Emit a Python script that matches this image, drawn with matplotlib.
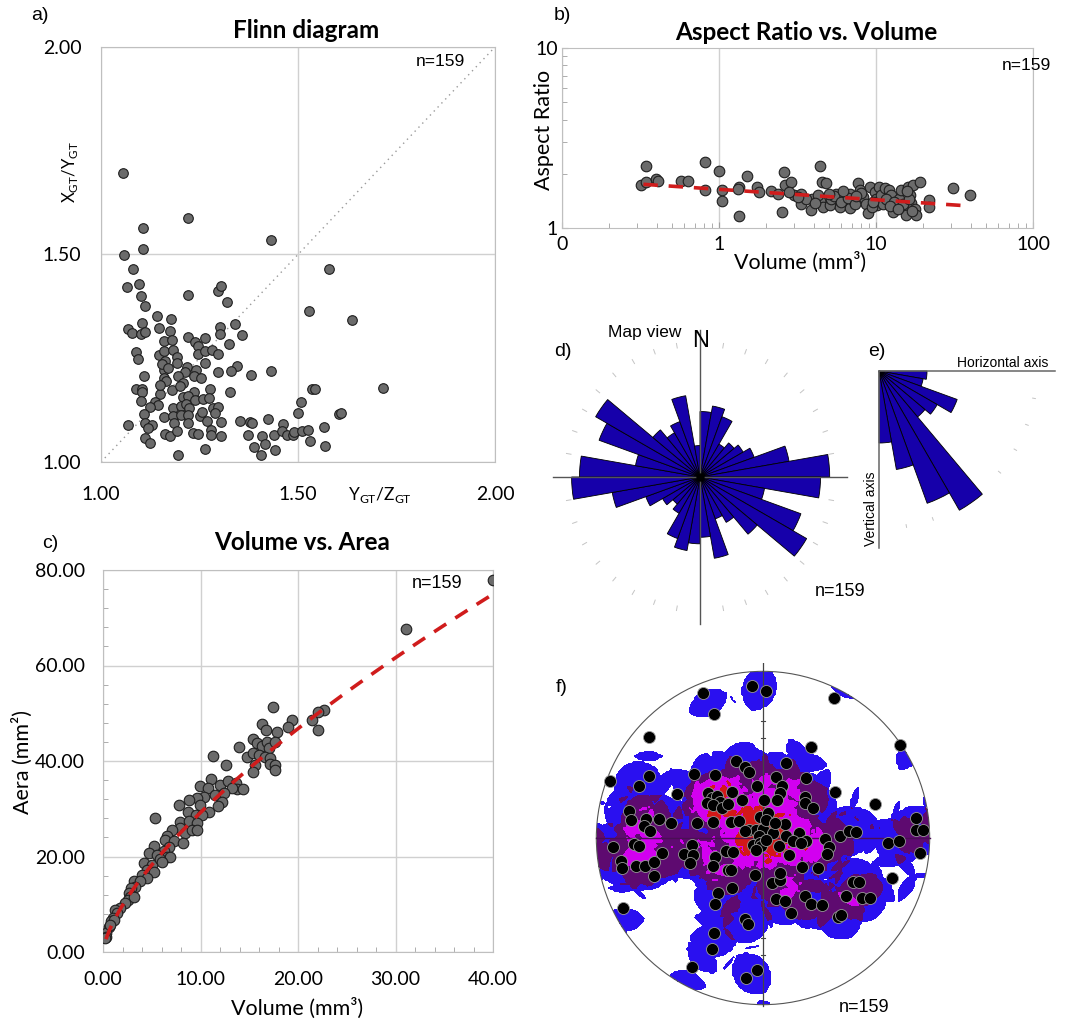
import numpy as np
import matplotlib
matplotlib.use("Agg")
import matplotlib.pyplot as plt
from matplotlib.patches import Circle
from matplotlib.ticker import FixedLocator, FixedFormatter, MultipleLocator, NullFormatter, LogLocator

# ---------------- DATA ----------------
# a) Flinn diagram
flinn_x = [1.057, 1.222, 1.106, 1.107, 1.432, 1.059, 1.080, 1.578, 1.067, 1.096, 1.102, 1.222, 1.296, 1.305,
           1.321, 1.112, 1.527, 1.637, 1.142, 1.177, 1.103, 1.339, 1.068, 1.078, 1.147, 1.176, 1.101, 1.111,
           1.301, 1.301, 1.359, 1.220, 1.264, 1.239, 1.160, 1.180, 1.245, 1.325, 1.088, 1.095, 1.147, 1.160,
           1.182, 1.246, 1.265, 1.282, 1.296, 1.193, 1.162, 1.192, 1.265, 1.159, 1.218, 1.212, 1.240, 1.344,
           1.331, 1.296, 1.431, 1.380, 1.110, 1.159, 1.196, 1.237, 1.254, 1.164, 1.209, 1.090, 1.103, 1.181,
           1.235, 1.277, 1.328, 1.536, 1.543, 1.717, 1.149, 1.103, 1.207, 1.220, 1.238, 1.259, 1.275, 1.101,
           1.137, 1.145, 1.125, 1.182, 1.203, 1.216, 1.224, 1.285, 1.298, 1.508, 1.109, 1.160, 1.183, 1.202,
           1.221, 1.251, 1.257, 1.290, 1.501, 1.605, 1.610, 1.069, 1.112, 1.129, 1.186, 1.220, 1.270, 1.305,
           1.353, 1.377, 1.382, 1.424, 1.119, 1.163, 1.176, 1.193, 1.233, 1.245, 1.279, 1.279, 1.304, 1.373,
           1.409, 1.439, 1.462, 1.460, 1.471, 1.487, 1.491, 1.511, 1.525, 1.566, 1.111, 1.124, 1.265, 1.389,
           1.416, 1.441, 1.530, 1.568, 1.196, 1.407, 1.155, 1.170, 1.150, 1.200]
flinn_y = [1.696, 1.589, 1.565, 1.514, 1.535, 1.498, 1.466, 1.465, 1.422, 1.429, 1.399, 1.403, 1.412, 1.423,
           1.386, 1.377, 1.363, 1.341, 1.353, 1.345, 1.335, 1.333, 1.320, 1.310, 1.322, 1.316, 1.309, 1.313,
           1.326, 1.309, 1.307, 1.301, 1.299, 1.288, 1.292, 1.293, 1.280, 1.284, 1.266, 1.248, 1.258, 1.267,
           1.271, 1.260, 1.267, 1.270, 1.261, 1.252, 1.244, 1.238, 1.238, 1.222, 1.228, 1.216, 1.222, 1.232,
           1.220, 1.216, 1.220, 1.209, 1.208, 1.202, 1.208, 1.208, 1.203, 1.194, 1.190, 1.177, 1.176, 1.174,
           1.169, 1.176, 1.168, 1.176, 1.177, 1.178, 1.164, 1.169, 1.157, 1.158, 1.150, 1.151, 1.155, 1.148,
           1.145, 1.137, 1.133, 1.130, 1.136, 1.140, 1.130, 1.130, 1.132, 1.145, 1.116, 1.109, 1.112, 1.114,
           1.113, 1.110, 1.120, 1.118, 1.118, 1.116, 1.118, 1.089, 1.093, 1.089, 1.094, 1.093, 1.098, 1.097,
           1.098, 1.096, 1.093, 1.104, 1.081, 1.068, 1.062, 1.075, 1.069, 1.068, 1.078, 1.064, 1.062, 1.066,
           1.062, 1.066, 1.092, 1.074, 1.066, 1.065, 1.073, 1.074, 1.077, 1.084, 1.059, 1.045, 1.032, 1.037,
           1.044, 1.030, 1.050, 1.038, 1.016, 1.017, 1.236, 1.226, 1.186, 1.182]

# b) Aspect ratio vs volume
vol_b = [0.32, 0.341, 0.344, 0.395, 0.409, 0.570, 0.637, 0.818, 0.81, 1.0, 1.05, 1.04, 1.335, 1.35, 1.32,
         1.506, 1.746, 1.81, 2.154, 2.376, 2.594, 2.62, 2.52, 2.86, 3.0, 3.345, 3.345, 3.87, 3.94, 4.42,
         4.55, 4.77, 4.4, 4.28, 4.59, 5.07, 5.2, 5.56, 5.86, 6.32, 6.8, 6.86, 7.1, 7.68, 7.87, 8.26, 8.67,
         8.9, 9.1, 9.8, 10.0, 10.2, 10.5, 10.8, 11.1, 11.4, 11.9, 12.1, 12.5, 12.8, 13.4, 14.1, 14.5, 15.2,
         15.6, 16.0, 16.4, 16.8, 17.2, 17.6, 18.0, 19.2, 21.9, 21.9, 30.9, 39.9, 3.6, 4.1, 5.4, 6.0, 6.6,
         7.3, 8.0, 9.4, 11.6, 13.0, 14.8, 16.2, 17.0, 12.3, 5.0, 6.2, 7.5, 3.2, 2.8, 9.6, 15.8, 13.8]
ar_b = [1.744, 2.208, 1.805, 1.868, 1.82, 1.836, 1.82, 2.314, 1.622, 2.079, 1.622, 1.408, 1.693, 1.162, 1.64,
        1.95, 1.693, 1.588, 1.607, 1.553, 2.035, 1.73, 1.223, 1.805, 1.52, 1.553, 1.355, 1.255, 1.457, 2.22,
        1.805, 1.78, 1.42, 1.52, 1.31, 1.34, 1.457, 1.553, 1.31, 1.438, 1.553, 1.298, 1.426, 1.78, 1.62,
        1.49, 1.366, 1.217, 1.693, 1.588, 1.457, 1.349, 1.693, 1.52, 1.366, 1.658, 1.426, 1.62, 1.53, 1.23,
        1.366, 1.457, 1.62, 1.31, 1.177, 1.693, 1.52, 1.378, 1.73, 1.28, 1.177, 1.79, 1.426, 1.31, 1.658,
        1.52, 1.45, 1.38, 1.50, 1.40, 1.47, 1.36, 1.56, 1.30, 1.45, 1.40, 1.36, 1.44, 1.25, 1.33, 1.55, 1.60,
        1.50, 1.48, 1.58, 1.40, 1.60, 1.28]
trend_b_x = [0.33, 35.0]
trend_b_a, trend_b_k = 1.64, -0.058

# c) Volume vs area
vol_c = [40.0, 31.06, 17.47, 22.66, 22.08, 21.4, 19.35, 19.0, 22.08, 16.35, 16.69, 17.88, 15.43, 15.84, 16.35,
         16.79, 17.06, 17.65, 13.9, 14.8, 15.43, 16.04, 16.62, 17.13, 15.63, 17.13, 17.65, 15.43, 17.6, 11.26,
         12.63, 11.06, 9.9, 10.82, 12.01, 12.8, 13.65, 13.79, 14.4, 13.28, 10.38, 11.5, 12.42, 12.18, 9.62,
         9.97, 8.87, 7.75, 10.92, 11.84, 8.7, 9.56, 10.14, 7.85, 8.87, 9.62, 5.36, 7.92, 8.43, 9.11, 9.62,
         7.06, 6.55, 6.38, 7.3, 8.19, 6.72, 6.21, 5.19, 4.68, 5.53, 6.55, 6.89, 4.16, 5.02, 5.8, 6.04, 4.5,
         5.19, 3.99, 4.5, 3.14, 3.82, 3.31, 2.87, 2.63, 2.8, 2.53, 3.14, 2.29, 1.77, 1.26, 1.43, 1.02, 0.85,
         0.58, 0.34, 0.34, 0.24, 1.09, 0.75]
area_c = [77.9, 67.6, 51.4, 50.7, 50.2, 48.6, 48.6, 47.2, 46.5, 47.7, 46.4, 46.0, 44.6, 43.7, 43.2, 43.9, 42.7,
          43.9, 43.0, 40.9, 41.6, 41.3, 40.9, 40.7, 39.1, 39.3, 39.2, 37.8, 38.1, 41.1, 39.2, 36.2, 34.7, 34.3,
          35.0, 35.9, 35.4, 34.1, 34.2, 34.3, 32.4, 32.9, 33.3, 31.5, 32.2, 30.8, 31.9, 30.8, 29.3, 30.5, 29.4,
          28.7, 28.7, 27.3, 27.5, 27.1, 28.0, 25.9, 24.9, 25.5, 25.6, 25.6, 24.2, 23.5, 23.2, 22.8, 21.9, 21.2,
          22.1, 20.7, 20.4, 19.9, 19.9, 18.6, 18.3, 19.5, 18.8, 17.2, 16.7, 16.2, 15.5, 14.8, 14.9, 13.7, 13.4,
          12.3, 11.5, 10.9, 11.5, 10.3, 9.2, 8.9, 8.2, 7.1, 6.4, 5.2, 4.0, 3.1, 2.9, 6.6, 5.7]
trend_c_x = [0.3, 40.0]
trend_c_a, trend_c_k = 6.1, 0.68

# d) Rose diagram, map view (10 degree bins from N, clockwise)
rose_d_bins = np.arange(0, 360, 10)
rose_d_vals = [5.0, 5.5, 4.9, 2.9, 3.4, 3.8, 4.4, 6.9, 9.9, 9.2, 5.0, 8.2, 9.4, 5.7, 4.0, 3.4, 6.3, 4.6,
               5.1, 5.7, 5.0, 3.2, 2.7, 3.3, 4.4, 6.8, 9.8, 9.2, 5.0, 8.2, 9.2, 4.7, 3.9, 4.5, 6.3, 2.4]

# e) Rose diagram, vertical section (10 degree bins from horizontal, downward)
rose_e_bins = np.arange(0, 90, 10)
rose_e_vals = [6.0, 5.6, 10.4, 8.4, 7.5, 20.1, 17.6, 12.5, 9.0]

# f) Stereonet, projected pole positions (unit circle)
pole_x = [-0.066, 0.020, -0.363, 0.428, -0.297, -0.687, 0.289, 0.821, -0.920, -0.687, -0.747, -0.414, -0.514,
          -0.165, -0.110, -0.084, -0.289, 0.139, 0.076, 0.259, 0.116, 0.100, 0.086, -0.034, -0.185, -0.124,
          -0.333, -0.309, -0.279, -0.259, -0.339, -0.299, -0.245, -0.209, 0.006, 0.249, 0.249, 0.299, 0.430,
          0.673, -0.803, -0.793, -0.703, -0.627, -0.552, -0.717, -0.677, -0.398, -0.299, -0.193, -0.145,
          -0.020, 0.030, 0.133, -0.084, -0.040, 0.000, 0.060, -0.026, -0.060, -0.020, -0.010, 0.020, 0.096,
          0.139, 0.213, 0.179, 0.259, 0.225, 0.369, 0.398, 0.384, 0.460, 0.518, 0.558, 0.920, 0.916, 0.960,
          0.747, 0.817, 0.942, -0.902, -0.777, -0.747, -0.851, -0.847, -0.761, -0.707, -0.657, -0.657, -0.608,
          -0.472, -0.428, -0.422, -0.438, -0.289, -0.299, -0.223, -0.183, -0.213, -0.195, -0.050, 0.056,
          0.100, 0.100, 0.155, 0.235, 0.329, -0.189, -0.269, -0.289, 0.080, 0.133, 0.249, 0.289, 0.353, 0.165,
          0.498, 0.538, 0.578, 0.594, 0.641, 0.771, 0.448, 0.468, -0.110, -0.090, -0.295, -0.309, -0.424,
          -0.100, -0.036, -0.841, -0.110, 0.020, 0.070, -0.040]
pole_y = [0.912, 0.880, 0.871, 0.841, 0.747, 0.608, 0.544, 0.558, 0.343, 0.373, 0.313, 0.384, 0.265, 0.462,
          0.428, 0.398, 0.378, 0.448, 0.369, 0.363, 0.315, 0.269, 0.229, 0.315, 0.275, 0.229, 0.269, 0.239,
          0.255, 0.219, 0.213, 0.199, 0.183, 0.203, 0.229, 0.249, 0.209, 0.179, 0.275, 0.203, 0.163, 0.106,
          0.116, 0.116, 0.090, 0.070, 0.040, 0.090, 0.094, 0.094, 0.100, 0.129, 0.153, 0.086, 0.046, 0.050,
          0.054, 0.030, 0.010, -0.040, -0.030, -0.050, -0.010, -0.050, 0.010, 0.030, -0.020, -0.020, -0.030,
          -0.006, -0.054, -0.096, 0.014, 0.044, 0.036, 0.120, 0.046, 0.046, -0.030, -0.016, -0.090, -0.056,
          -0.034, -0.050, -0.139, -0.179, -0.169, -0.169, -0.145, -0.229, -0.090, -0.094, -0.040, -0.102,
          -0.149, -0.114, -0.169, -0.080, -0.084, -0.193, -0.189, -0.223, -0.269, -0.249, -0.209, -0.100,
          -0.173, -0.179, -0.299, -0.329, -0.398, -0.363, -0.375, -0.345, -0.398, -0.404, -0.448, -0.345,
          -0.263, -0.263, -0.359, -0.359, -0.239, -0.474, -0.462, -0.484, -0.518, -0.568, -0.663, -0.771,
          -0.837, -0.791, -0.418, 0.040, 0.110, 0.090, -0.070]
n_label = "n=159"

# ---------------- FIGURE ----------------
W, H = 1076, 1031
fig = plt.figure(figsize=(W / 100, H / 100), dpi=100)
fig.patch.set_facecolor("white")

def box(x0, y0, x1, y1):
    return [x0 / W, 1 - y1 / H, (x1 - x0) / W, (y1 - y0) / H]

def ftext(x, y, s, **kw):
    return fig.text(x / W, 1 - y / H, s, **kw)

XL = ["Lato", "DejaVu Sans"]
AR = ["Liberation Sans", "DejaVu Sans"]
GRID = "#d0d0d0"
SPINE = "#bfbfbf"
MFC = "#6b6b6b"
MEC = "#1e1e1e"
RED = "#d01c1c"
TITLE_FS = 17.5
LABEL_FS = 15.5

# ---- a) Flinn diagram
ax = fig.add_axes(box(101, 47, 495, 462))
ax.set_xlim(1, 2)
ax.set_ylim(1, 2)
ax.plot([1, 2], [1, 2], ls=(0, (1, 3)), color="#9a9a9a", lw=1.0, zorder=1)
ax.scatter(flinn_x, flinn_y, s=48, c=MFC, edgecolors=MEC, linewidths=0.8, zorder=3)
ax.xaxis.set_major_locator(FixedLocator([1.0, 1.5, 2.0]))
ax.yaxis.set_major_locator(FixedLocator([1.0, 1.5, 2.0]))
ax.xaxis.set_major_formatter(FixedFormatter(["1.00", "1.50", "2.00"]))
ax.yaxis.set_major_formatter(FixedFormatter(["1.00", "1.50", "2.00"]))
ax.grid(True, color=GRID, lw=1.0, zorder=0)
ax.tick_params(length=0, labelsize=14, pad=14)
ax.tick_params(axis="x", pad=17)
for lab in ax.get_xticklabels() + ax.get_yticklabels():
    lab.set_family(XL)
for sp in ax.spines.values():
    sp.set_color(SPINE)
ax.set_axisbelow(True)
ftext(440, 62, n_label, family=AR, fontsize=12.5, ha="center", va="center")
ftext(306, 30, "Flinn diagram", family=XL, fontsize=TITLE_FS, fontweight="bold", ha="center", va="center")
ftext(40, 16, "a)", family=AR, fontsize=14, ha="center", va="center")
ftext(380, 495, r"Y$_{\mathregular{GT}}$/Z$_{\mathregular{GT}}$", family=XL, fontsize=12.5, ha="center", va="center")
ftext(70, 172, r"X$_{\mathregular{GT}}$/Y$_{\mathregular{GT}}$", family=XL, fontsize=12, ha="center",
      va="center", rotation=90)

# ---- b) Aspect ratio vs volume
ax = fig.add_axes(box(562, 48, 1033, 228))
ax.set_xscale("log")
ax.set_yscale("log")
ax.set_xlim(0.1, 100)
ax.set_ylim(1, 10)
ax.scatter(vol_b, ar_b, s=58, c=MFC, edgecolors=MEC, linewidths=0.8, zorder=3)
tx = np.array(trend_b_x)
tline = np.geomspace(tx[0], tx[1], 50)
ax.plot(tline, trend_b_a * tline ** trend_b_k, ls=(0, (4, 3)), color=RED, lw=2.6, zorder=4)
ax.xaxis.set_major_locator(FixedLocator([0.1, 1, 10, 100]))
ax.xaxis.set_major_formatter(FixedFormatter(["0", "1", "10", "100"]))
ax.yaxis.set_major_locator(FixedLocator([1, 10]))
ax.yaxis.set_major_formatter(FixedFormatter(["1", "10"]))
ax.xaxis.set_minor_locator(LogLocator(base=10, subs=np.arange(2, 10)))
ax.yaxis.set_minor_locator(LogLocator(base=10, subs=np.arange(2, 10)))
ax.xaxis.set_minor_formatter(NullFormatter())
ax.yaxis.set_minor_formatter(NullFormatter())
ax.grid(True, which="major", axis="x", color=GRID, lw=1.0, zorder=0)
ax.tick_params(which="both", direction="in", color="#a0a0a0", labelsize=14)
ax.tick_params(which="major", length=4)
ax.tick_params(which="minor", length=3.5)
ax.tick_params(axis="x", pad=6)
ax.tick_params(axis="y", pad=3)
for lab in ax.get_xticklabels() + ax.get_yticklabels():
    lab.set_family(XL)
for sp in ax.spines.values():
    sp.set_color(SPINE)
ax.set_axisbelow(True)
ftext(1026, 65, n_label, family=AR, fontsize=12.5, ha="center", va="center")
ftext(806, 32, "Aspect Ratio vs. Volume", family=XL, fontsize=TITLE_FS, fontweight="bold", ha="center", va="center")
ftext(562, 15, "b)", family=AR, fontsize=14, ha="center", va="center")
ftext(800, 262, "Volume (mm³)", family=XL, fontsize=LABEL_FS, ha="center", va="center")
ftext(544, 130, "Aspect Ratio", family=XL, fontsize=LABEL_FS, ha="center", va="center", rotation=90)

# ---- c) Volume vs area
ax = fig.add_axes(box(103, 570, 493, 952))
ax.set_xlim(0, 40)
ax.set_ylim(0, 80)
ax.scatter(vol_c, area_c, s=58, c=MFC, edgecolors=MEC, linewidths=0.8, zorder=3)
tline = np.linspace(trend_c_x[0], trend_c_x[1], 100)
ax.plot(tline, trend_c_a * tline ** trend_c_k, ls=(0, (4, 3)), color=RED, lw=2.6, zorder=4)
ax.xaxis.set_major_locator(MultipleLocator(10))
ax.yaxis.set_major_locator(MultipleLocator(20))
ax.xaxis.set_minor_locator(MultipleLocator(2))
ax.yaxis.set_minor_locator(MultipleLocator(4))
ax.xaxis.set_major_formatter(matplotlib.ticker.FormatStrFormatter("%.2f"))
ax.yaxis.set_major_formatter(matplotlib.ticker.FormatStrFormatter("%.2f"))
ax.grid(True, which="major", color=GRID, lw=1.0, zorder=0)
ax.tick_params(which="major", length=0, labelsize=14)
ax.tick_params(which="minor", direction="in", length=3.5, color="#a0a0a0")
ax.tick_params(axis="x", which="major", pad=14)
ax.tick_params(axis="y", which="major", pad=13)
for lab in ax.get_xticklabels() + ax.get_yticklabels():
    lab.set_family(XL)
for sp in ax.spines.values():
    sp.set_color(SPINE)
ax.set_axisbelow(True)
ftext(437, 584, n_label, family=AR, fontsize=13, ha="center", va="center")
ftext(302, 543, "Volume vs. Area", family=XL, fontsize=TITLE_FS, fontweight="bold", ha="center", va="center")
ftext(50, 543, "c)", family=AR, fontsize=14, ha="center", va="center")
ftext(297, 1008, "Volume (mm³)", family=XL, fontsize=LABEL_FS, ha="center", va="center")
ftext(22, 762, "Aera (mm²)", family=XL, fontsize=LABEL_FS, ha="center", va="center", rotation=90)

ROSE = "#1600aa"

# ---- d) Rose diagram map view
R_d = 150 / 13.1
ax = fig.add_axes(box(550, 327, 850, 627), projection="polar")
ax.set_theta_zero_location("N")
ax.set_theta_direction(-1)
ax.set_ylim(0, R_d)
ax.axis("off")
ax.patch.set_alpha(0)
th = np.deg2rad(np.array(rose_d_bins) + 5)
ax.bar(th, rose_d_vals, width=np.deg2rad(10), bottom=0, color=ROSE, edgecolor="black", linewidth=0.6, zorder=3)
L = 147 / 13.1
for a_ in [0, 90, 180, 270]:
    ax.plot([np.deg2rad(a_)] * 2, [0, L], color="#555555", lw=1.0, zorder=4)
for a_ in range(0, 360, 10):
    if a_ % 90 == 0:
        continue
    ax.plot([np.deg2rad(a_)] * 2, [10.0, 10.35], color="#c4c4c4", lw=0.7, zorder=2)
ax.plot([0], [0], "o", color="black", ms=5, zorder=5)
ftext(563, 352, "d)", family=AR, fontsize=14, ha="center", va="center")
ftext(645, 333, "Map view", family=AR, fontsize=12.5, ha="center", va="center")
ftext(701, 341, "N", family=AR, fontsize=17, ha="center", va="center")
ftext(840, 591, n_label, family=AR, fontsize=13, ha="center", va="center")

# ---- e) Rose diagram vertical section
R_e = 185 / 8.0
ax = fig.add_axes(box(694, 186, 1064, 556), projection="polar")
ax.set_theta_zero_location("E")
ax.set_theta_direction(-1)
ax.set_ylim(0, R_e)
ax.axis("off")
ax.patch.set_alpha(0)
th = np.deg2rad(np.array(rose_e_bins) + 5)
ax.bar(th, rose_e_vals, width=np.deg2rad(10), bottom=0, color=ROSE, edgecolor="black", linewidth=0.6, zorder=3)
ax.plot([0, 0], [0, 176 / 8.0], color="#666666", lw=1.1, zorder=4)
ax.plot([np.pi / 2] * 2, [0, 177 / 8.0], color="#666666", lw=1.1, zorder=4)
for a_ in range(10, 90, 10):
    ax.plot([np.deg2rad(a_)] * 2, [19.5, 19.85], color="#c4c4c4", lw=0.7, zorder=2)
ftext(877, 351, "e)", family=AR, fontsize=14, ha="center", va="center")
ftext(1003, 363, "Horizontal axis", family=AR, fontsize=10, ha="center", va="center")
ftext(871, 509, "Vertical axis", family=AR, fontsize=10, ha="center", va="center", rotation=90)

# ---- f) Stereonet with density contours
ax = fig.add_axes(box(588, 663, 938, 1013))
ax.set_xlim(-1.05, 1.05)
ax.set_ylim(-1.05, 1.05)
ax.set_aspect("equal")
ax.axis("off")
P = np.column_stack([pole_x, pole_y])
rc = 0.145
rr = np.hypot(P[:, 0], P[:, 1])
edge = rr > 1 - rc
V = -P[edge] * ((2 - rr[edge]) / rr[edge])[:, None]
PA = np.vstack([P, V])
g = np.linspace(-1, 1, 261)
GX, GY = np.meshgrid(g, g)
C = np.zeros_like(GX)
for px, py in PA:
    C += ((GX - px) ** 2 + (GY - py) ** 2) < rc ** 2
C = np.ma.masked_where(GX ** 2 + GY ** 2 > 1.0, C)
ax.contourf(GX, GY, C, levels=[1.5, 3.5, 6.5, 10.5, 1000],
            colors=["#2a10f0", "#5e0a70", "#d200f0", "#d21818"], zorder=1)
ax.add_patch(Circle((0, 0), 1, fill=False, ec="#555555", lw=0.8, zorder=2))
ax.plot([0, 0], [-1.01, 1.05], color="#444444", lw=0.9, zorder=2)
ax.plot([-1, 1], [0, 0], color="#4a0f55", lw=1.0, zorder=2)
for yy in [0.6, 0.7, -0.6, -0.7]:
    ax.plot([-0.012, 0.012], [yy, yy], color="#444444", lw=0.8, zorder=2)
ax.scatter(pole_x, pole_y, s=75, c="black", edgecolors="#9a9a9a", linewidths=0.6, zorder=3)
ftext(562, 688, "f)", family=AR, fontsize=14, ha="center", va="center")
ftext(864, 1007, n_label, family=AR, fontsize=13, ha="center", va="center")

fig.savefig("out.png", dpi=100, facecolor="white")
